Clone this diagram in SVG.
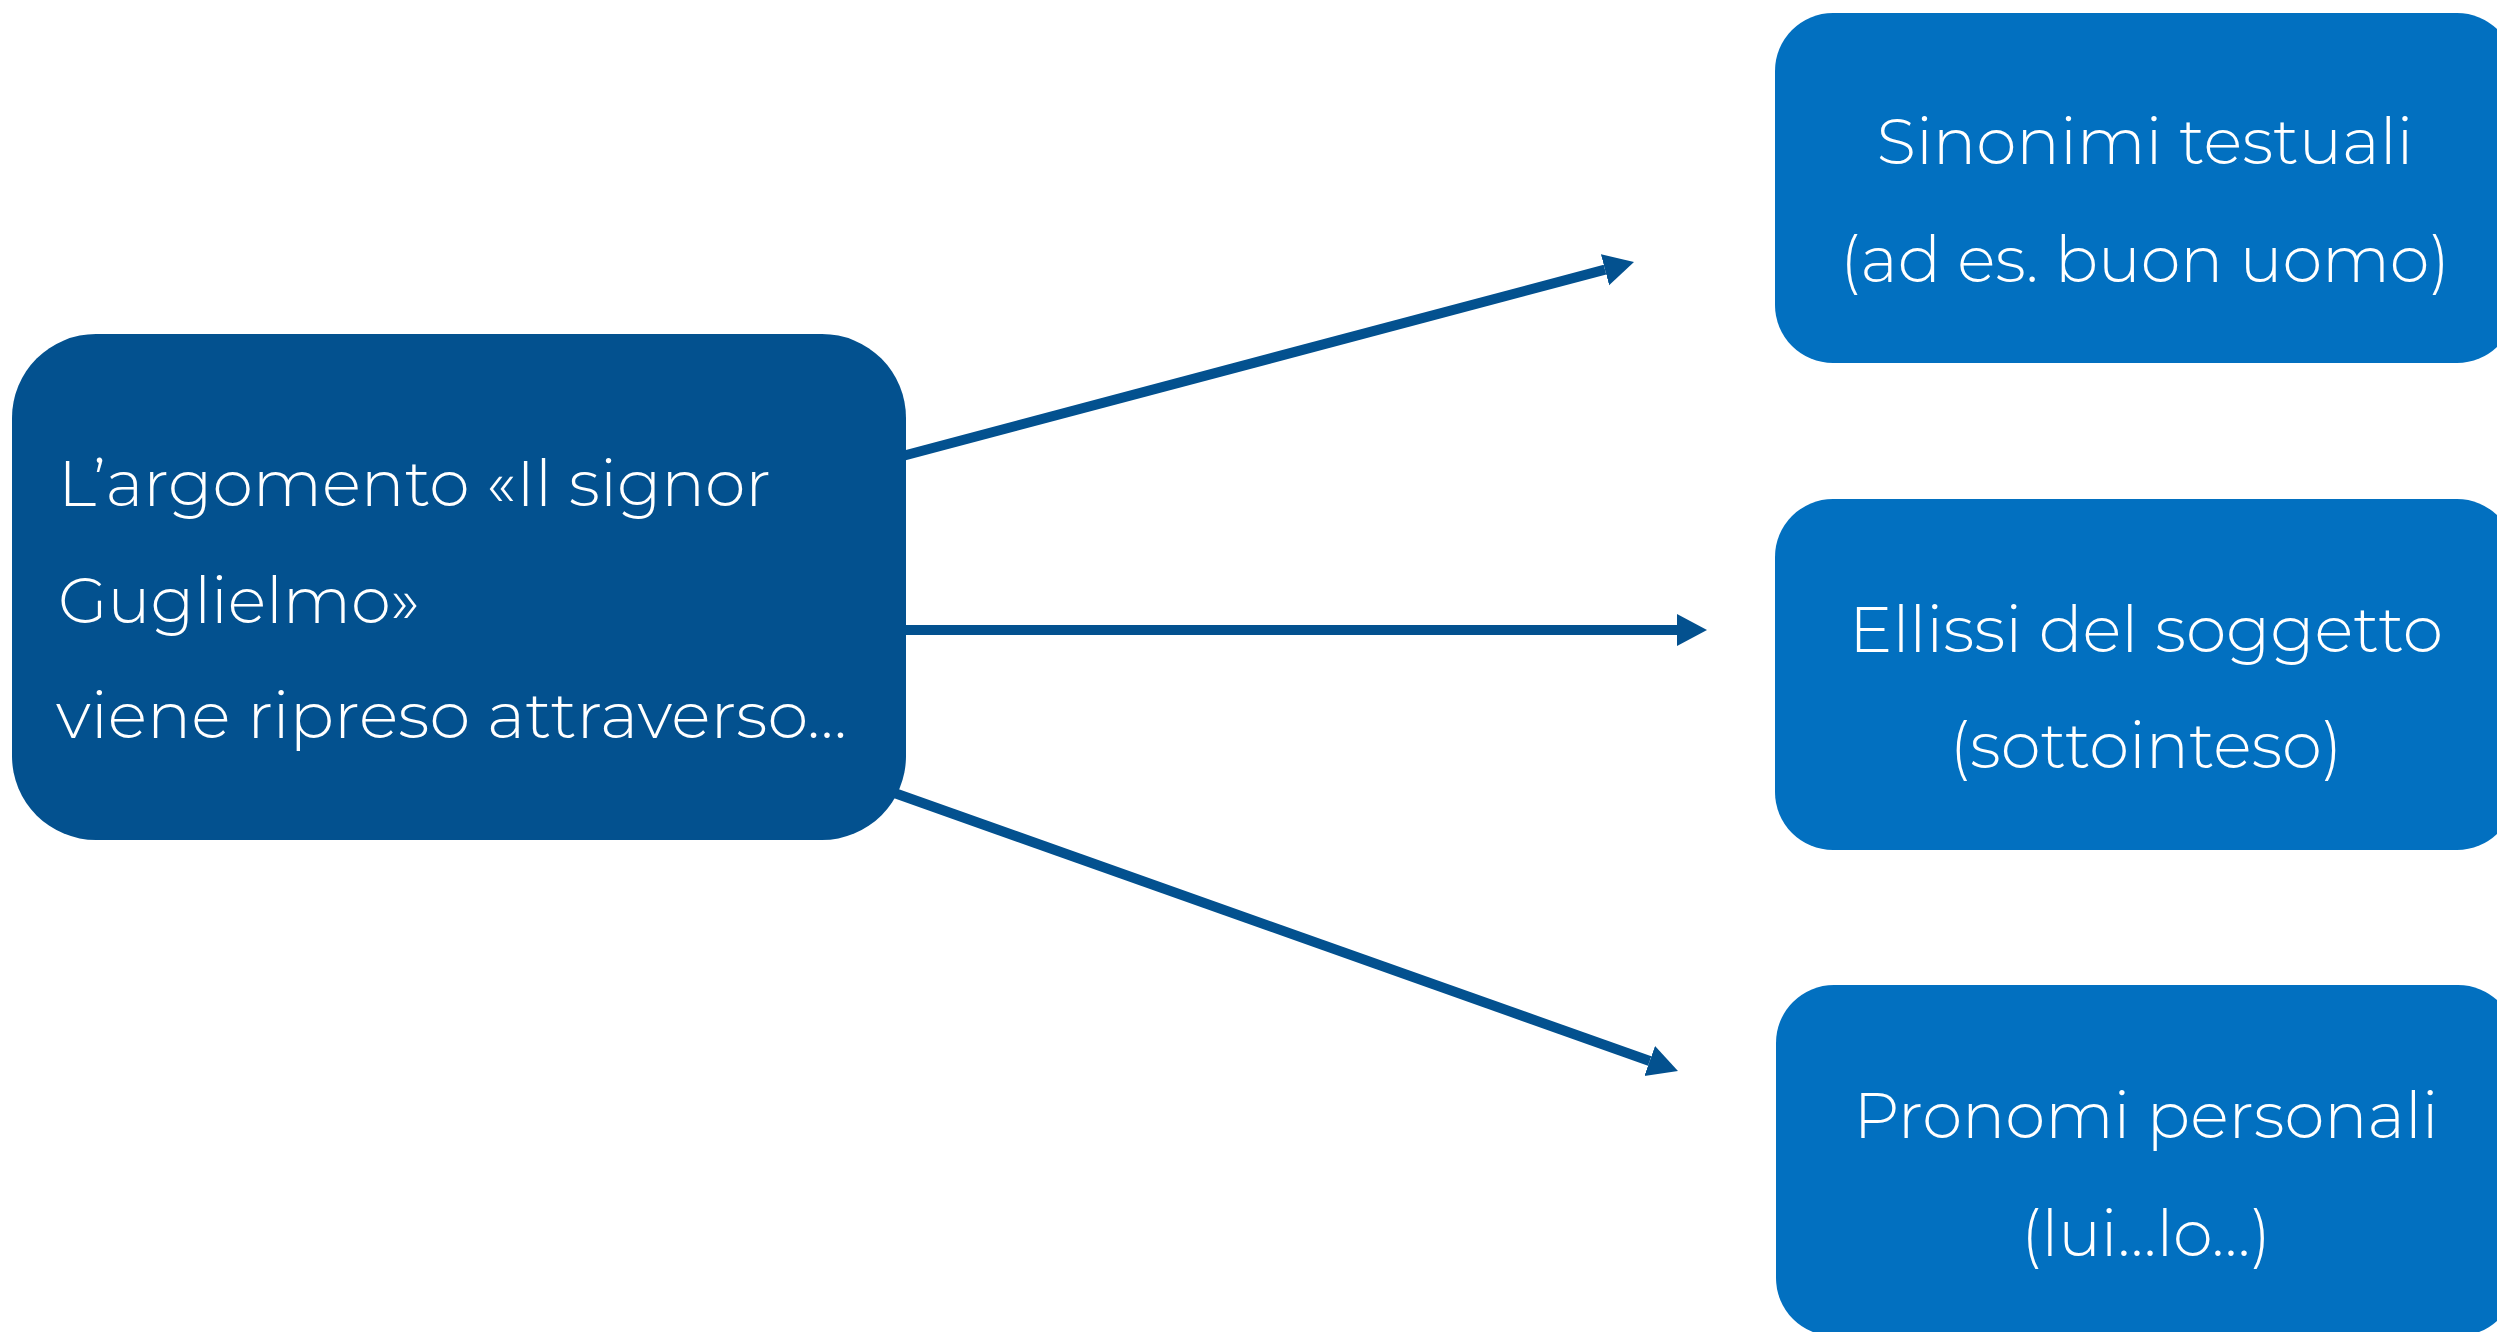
<svg xmlns="http://www.w3.org/2000/svg" width="2497" height="1332" viewBox="0 0 2497 1332">
<defs>
<style>
.src{fill:#03518F}
.dst{fill:#0270C0}
.t{font-family:Montserrat,"Lato","Open Sans",sans-serif;font-weight:300;font-size:64px;fill:#FFFFFF}
.c{text-anchor:middle}
.conn{stroke:#03518F;stroke-width:10;fill:none}
</style>
<marker id="ah" markerUnits="userSpaceOnUse" markerWidth="32" markerHeight="34" refX="0" refY="17" orient="auto" viewBox="0 0 32 34">
<path d="M0,1 L30,17 L0,33 Z" fill="#03518F"/>
</marker>
</defs>
<rect width="2497" height="1332" fill="#FFFFFF"/>
<g id="connectors">
<line class="conn" x1="895" y1="458" x2="1605" y2="269.7" marker-end="url(#ah)"/>
<line class="conn" x1="895" y1="630" x2="1677" y2="630" marker-end="url(#ah)"/>
<line class="conn" x1="886" y1="790" x2="1649.7" y2="1061" marker-end="url(#ah)"/>
</g>
<g id="node-source">
<rect class="src" x="12" y="334" width="894" height="506" rx="84" ry="84"/>
<text class="t" x="58" y="506" textLength="713" lengthAdjust="spacingAndGlyphs">L’argomento «Il signor</text>
<text class="t" x="58" y="623" textLength="362" lengthAdjust="spacingAndGlyphs">Guglielmo»</text>
<text class="t" x="56" y="738" textLength="791" lengthAdjust="spacingAndGlyphs">viene ripreso attraverso…</text>
</g>
<g id="node-sinonimi">
<rect class="dst" x="1775" y="13" width="740" height="350" rx="58" ry="58"/>
<text class="t c" x="2145" y="164" textLength="537" lengthAdjust="spacingAndGlyphs">Sinonimi testuali</text>
<text class="t c" x="2145" y="282" textLength="610" lengthAdjust="spacingAndGlyphs">(ad es. buon uomo)</text>
</g>
<g id="node-ellissi">
<rect class="dst" x="1775" y="499" width="740" height="351" rx="58" ry="58"/>
<text class="t c" x="2146" y="652" textLength="594" lengthAdjust="spacingAndGlyphs">Ellissi del soggetto</text>
<text class="t c" x="2146" y="768" textLength="393" lengthAdjust="spacingAndGlyphs">(sottointeso)</text>
</g>
<g id="node-pronomi">
<rect class="dst" x="1776" y="985" width="740" height="351" rx="58" ry="58"/>
<text class="t c" x="2146" y="1138" textLength="585" lengthAdjust="spacingAndGlyphs">Pronomi personali</text>
<text class="t c" x="2146" y="1256" textLength="250" lengthAdjust="spacingAndGlyphs">(lui…lo…)</text>
</g>
</svg>
